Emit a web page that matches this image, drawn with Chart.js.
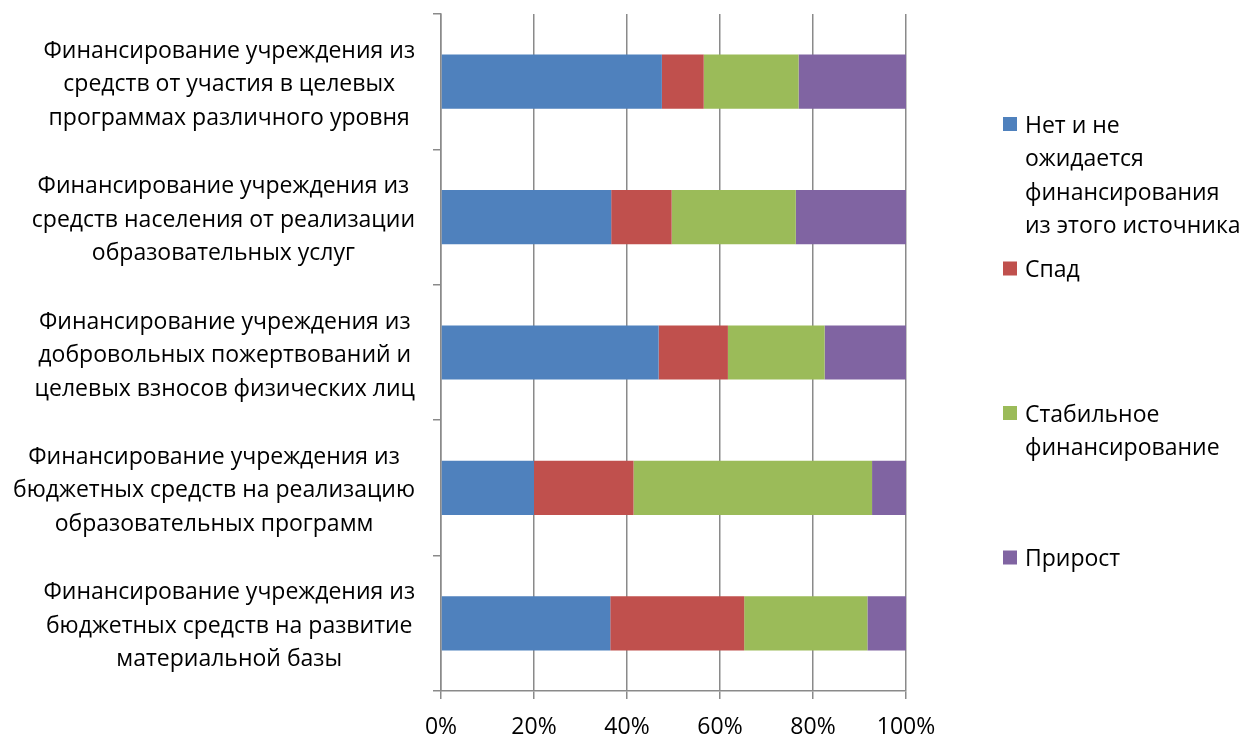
<!DOCTYPE html>
<html lang="ru">
<head>
<meta charset="utf-8">
<title>Источники финансирования учреждения</title>
<script src="https://cdn.jsdelivr.net/npm/chart.js@4"></script>
<style>
  html, body { margin: 0; padding: 0; background: #fff; }
  #wrap { width: 1242px; height: 736px; }
</style>
</head>
<body>
<div id="wrap"><canvas id="fundingChart" width="1242" height="736"></canvas></div>
<script>
// categories, top to bottom, broken into lines as in the original
var categoryLines = [
  ["Финансирование учреждения из", "средств от участия в целевых", "программах различного уровня"],
  ["Финансирование учреждения из", "средств населения от реализации", "образовательных услуг"],
  ["Финансирование учреждения из", "добровольных пожертвований и", "целевых взносов физических лиц"],
  ["Финансирование учреждения из", "бюджетных средств на реализацию", "образовательных программ"],
  ["Финансирование учреждения из", "бюджетных средств на развитие", "материальной базы"]
];

// series (legend order)
var seriesLines = [
  ["Нет и не", "ожидается", "финансирования", "из этого источника"],
  ["Спад"],
  ["Стабильное", "финансирование"],
  ["Прирост"]
];
var seriesColors = ["#4F81BD", "#C0504D", "#9BBB59", "#8064A2"];

// shares in %, one per category
var noneValues    = [47.5, 36.6, 46.8, 20.0, 36.4];
var declineValues = [ 9.0, 13.0, 14.9, 21.4, 28.8];
var stableValues  = [20.4, 26.7, 20.8, 51.3, 26.5];
var growthValues  = [23.1, 23.7, 17.5,  7.3,  8.3];

var xTickValues = [0, 20, 40, 60, 80, 100];

var fontFamily = "'Open Sans', 'Noto Sans', sans-serif";
var fontSize   = 23;
var lineStep   = 33.5;
var axisGray   = "#8a8a8a";

/*
* category labels: each block right-aligned to the axis, lines centred in the block
*/
var categoryLabels = {
    id: 'categoryLabels',
    afterDraw: function(chart) {
        var ctx  = chart.ctx;
        var yS   = chart.scales.y;
        var right = chart.chartArea.left - 26;
        ctx.save();
        ctx.font = fontSize + "px " + fontFamily;
        ctx.fillStyle = "#000";
        ctx.textAlign = "center";
        ctx.textBaseline = "middle";
        categoryLines.forEach(function(lines, i) {
            var widest = 0;
            lines.forEach(function(l) { widest = Math.max(widest, ctx.measureText(l).width); });
            var cx = right - widest / 2;
            var cy = yS.getPixelForValue(i) + 3;
            lines.forEach(function(l, k) {
                ctx.fillText(l, cx, cy + (k - (lines.length - 1) / 2) * lineStep);
            });
        });
        ctx.restore();
    }
};

/*
* legend on the right, items spread evenly like in the spreadsheet chart
*/
var sideLegend = {
    id: 'sideLegend',
    afterDraw: function(chart) {
        var ctx  = chart.ctx;
        var area = chart.chartArea;
        var boxX = area.right + 97;
        var step = 144.5;
        var y0   = area.top + 110;
        ctx.save();
        ctx.font = fontSize + "px " + fontFamily;
        ctx.textAlign = "left";
        ctx.textBaseline = "middle";
        chart.data.datasets.forEach(function(ds, i) {
            var y = y0 + i * step;
            ctx.fillStyle = ds.backgroundColor;
            ctx.fillRect(boxX, y - 7, 14, 14);
            ctx.fillStyle = "#000";
            seriesLines[i].forEach(function(l, k) {
                ctx.fillText(l, boxX + 22, y + 2 + k * lineStep);
            });
        });
        ctx.restore();
    }
};

var seriesValues = [noneValues, declineValues, stableValues, growthValues];
var datasets = seriesValues.map(function(vals, i) {
    return {
        label: seriesLines[i].join(" "),
        data: vals,
        backgroundColor: seriesColors[i],
        borderWidth: 0
    };
});

new Chart(document.getElementById("fundingChart"), {
    type: "bar",
    data: {
        labels: categoryLines.map(function(l) { return l.join(" "); }),
        datasets: datasets
    },
    options: {
        indexAxis: "y",
        responsive: false,
        animation: false,
        layout: { padding: { top: 14, right: 336, bottom: 0, left: 0 } },
        datasets: { bar: { barPercentage: 0.4, categoryPercentage: 1 } },
        plugins: { legend: { display: false }, tooltip: { enabled: false } },
        scales: {
            x: {
                stacked: true,
                min: 0,
                max: 100,
                afterBuildTicks: function(s) { s.ticks = xTickValues.map(function(v) { return { value: v }; }); },
                afterFit: function(s) { s.height = 45; s.paddingLeft = 0; s.paddingRight = 0; },
                ticks: {
                    callback: function(v) { return v + "%"; },
                    color: "#000",
                    padding: 15,
                    font: { family: fontFamily, size: fontSize, lineHeight: 1.2 }
                },
                grid: { color: axisGray, lineWidth: 1.5, tickLength: 8 },
                border: { color: axisGray, width: 1.5 }
            },
            y: {
                stacked: true,
                afterFit: function(s) { s.width = 441; s.paddingTop = 0; s.paddingBottom = 0; },
                ticks: { display: false },
                grid: { offset: true, drawOnChartArea: false, color: axisGray, lineWidth: 1.5, tickLength: 8 },
                border: { color: axisGray, width: 1.5 }
            }
        }
    },
    plugins: [categoryLabels, sideLegend]
});
</script>
</body>
</html>
